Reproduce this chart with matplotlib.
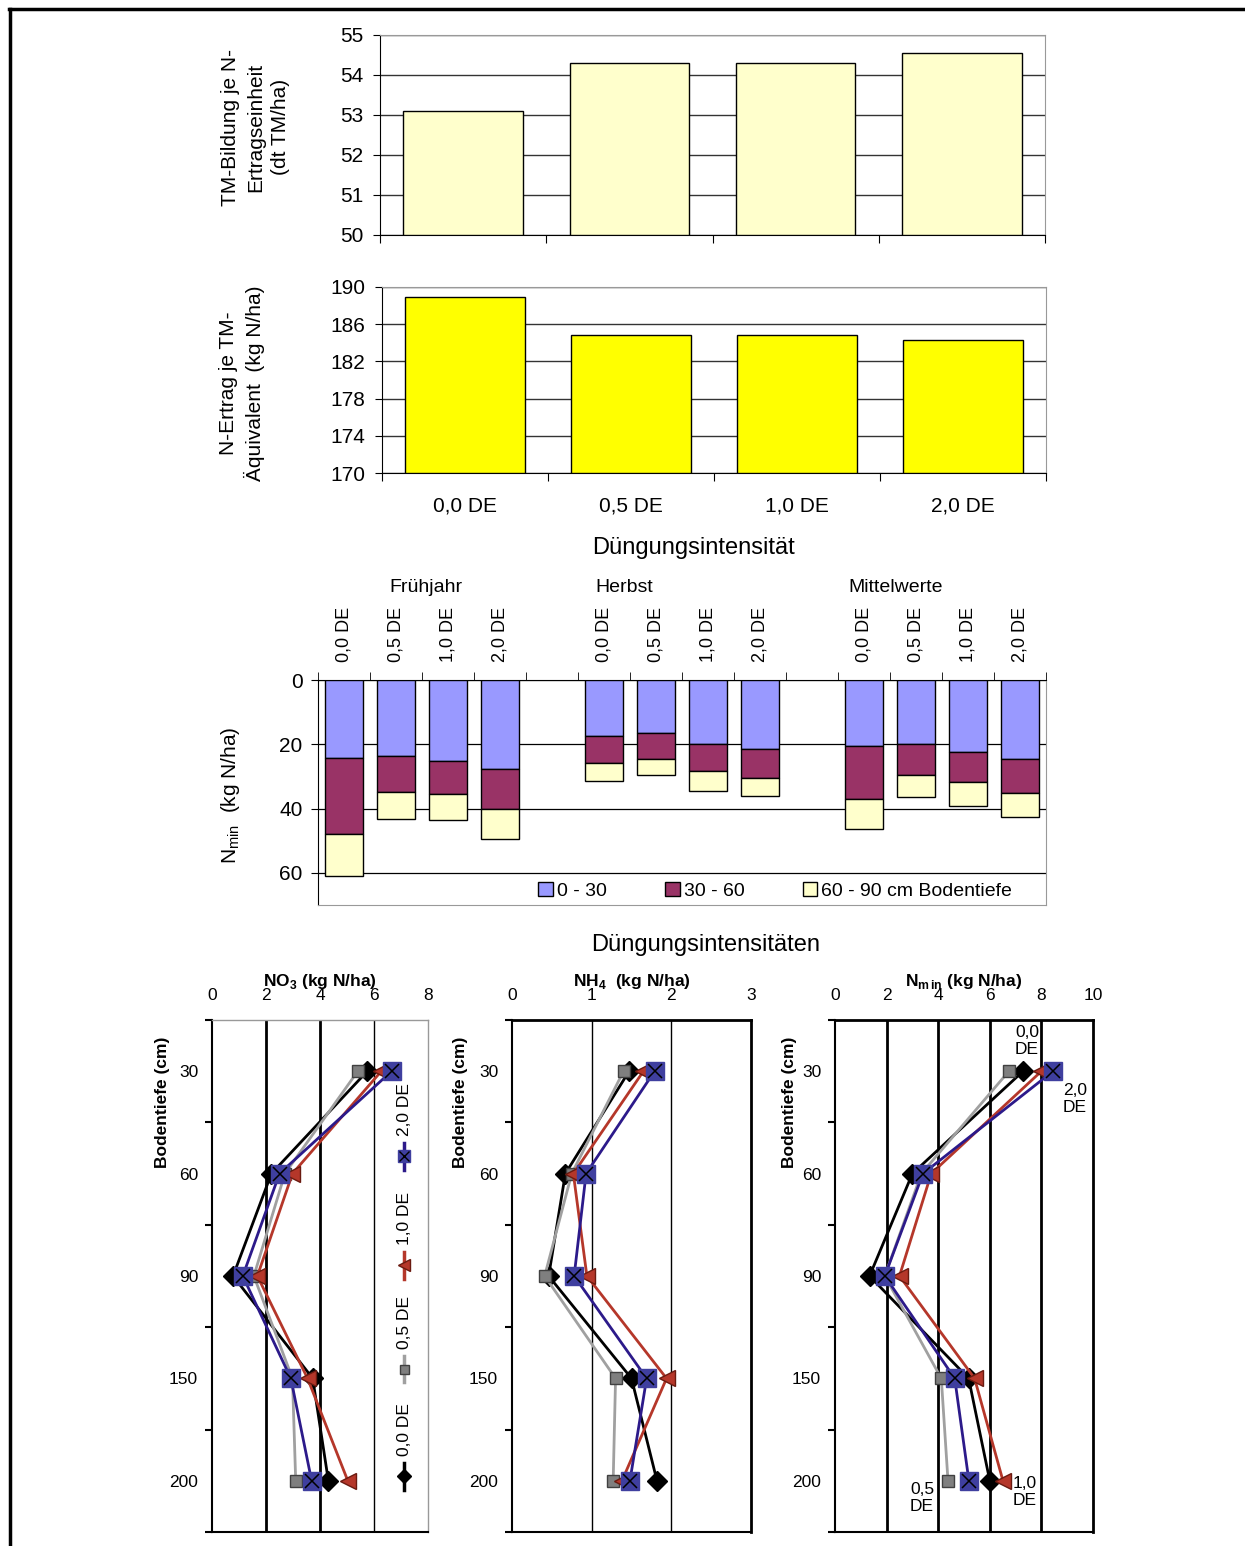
import matplotlib
matplotlib.use("Agg")
import matplotlib.pyplot as plt
from matplotlib.lines import Line2D
from matplotlib.patches import Patch
import numpy as np

plt.rcParams['font.family'] = ['Liberation Sans', 'DejaVu Sans']
plt.rcParams['mathtext.fontset'] = 'custom'
plt.rcParams['mathtext.rm'] = 'Liberation Sans'
plt.rcParams['mathtext.bf'] = 'Liberation Sans:bold'

# --- data -------------------------------------------------------------
categories = ['0,0 DE', '0,5 DE', '1,0 DE', '2,0 DE']
tm_bildung = [53.1, 54.3, 54.3, 54.55]
n_ertrag = [188.9, 184.8, 184.8, 184.3]

season_labels = ['Frühjahr', 'Herbst', 'Mittelwerte']
nmin_0_30 = [24.4, 23.6, 25.2, 27.8, 17.3, 16.6, 19.9, 21.5, 20.6, 19.9, 22.5, 24.5]
nmin_30_60 = [23.5, 11.2, 10.4, 12.3, 8.6, 7.9, 8.3, 8.9, 16.5, 9.7, 9.3, 10.7]
nmin_60_90 = [13.0, 8.3, 7.8, 9.3, 5.6, 5.1, 6.2, 5.7, 9.3, 6.8, 7.3, 7.5]
layer_labels = ['0 - 30', '30 - 60', '60 - 90 cm Bodentiefe']

depths = ['30', '60', '90', '150', '200']
no3_00 = [5.75, 2.2, 0.78, 3.73, 4.31]
no3_05 = [5.4, 2.7, 1.55, 2.98, 3.1]
no3_10 = [6.27, 2.98, 1.68, 3.54, 5.03]
no3_20 = [6.65, 2.5, 1.14, 2.92, 3.69]
nh4_00 = [1.47, 0.67, 0.46, 1.50, 1.82]
nh4_05 = [1.40, 0.75, 0.41, 1.30, 1.27]
nh4_10 = [1.65, 0.77, 0.94, 1.94, 1.38]
nh4_20 = [1.79, 0.93, 0.78, 1.69, 1.48]
nmin_00 = [7.29, 3.0, 1.34, 5.18, 6.0]
nmin_05 = [6.74, 3.35, 1.93, 4.12, 4.38]
nmin_10 = [8.0, 3.73, 2.5, 5.41, 6.51]
nmin_20 = [8.45, 3.41, 1.93, 4.64, 5.19]

# --- layout helpers ---------------------------------------------------
W, H = 1245, 1546
fig = plt.figure(figsize=(W / 100, H / 100), dpi=100)


def rect(x0, y0, x1, y1):
    return [x0 / W, 1 - y1 / H, (x1 - x0) / W, (y1 - y0) / H]


def ftext(x, y, s, **kw):
    fig.text(x / W, 1 - y / H, s, **kw)


# outer frame (left + top)
fig.add_artist(Line2D([10 / W, 10 / W], [0, 1 - 9 / H], color='black', lw=2.5))
fig.add_artist(Line2D([9 / W, 1], [1 - 9 / H, 1 - 9 / H], color='black', lw=2.5))


def bar_axes(ax, values, color, ylim, yticks):
    x = np.arange(len(values))
    ax.bar(x, [v - ylim[0] for v in values], bottom=ylim[0], width=0.72,
           color=color, edgecolor='black', linewidth=1, zorder=3)
    ax.set_xlim(-0.5, len(values) - 0.5)
    ax.set_ylim(*ylim)
    ax.set_yticks(yticks)
    ax.yaxis.grid(True, color='#333333', lw=1, zorder=0)
    ax.set_xticks(np.arange(len(values) + 1) - 0.5)
    ax.set_xticklabels([])
    ax.tick_params(axis='x', length=6, direction='out')
    ax.tick_params(axis='y', length=5, direction='out', labelsize=15, pad=7)
    for s in ['top', 'right']:
        ax.spines[s].set_color('#999999')
    ax.spines['left'].set_color('black')
    ax.spines['bottom'].set_color('black')


# --- chart 1 ----------------------------------------------------------
ax1 = fig.add_axes(rect(380, 35, 1045, 235))
bar_axes(ax1, tm_bildung, '#FFFFCC', (50, 55), range(50, 56))
ftext(256, 127, 'TM-Bildung je N-\nErtragseinheit\n(dt TM/ha)', rotation=90,
      ha='center', va='center', fontsize=15, multialignment='center', linespacing=1.4)

# --- chart 2 ----------------------------------------------------------
ax2 = fig.add_axes(rect(382, 287, 1046, 473))
bar_axes(ax2, n_ertrag, '#FFFF00', (170, 190), range(170, 191, 4))
for i, c in enumerate(categories):
    ax2.text(i, -0.175, c, transform=ax2.get_xaxis_transform(), ha='center', va='center', fontsize=15)
ftext(242, 383, 'N-Ertrag je TM-\nÄquivalent  (kg N/ha)', rotation=90,
      ha='center', va='center', fontsize=15, multialignment='center', linespacing=1.4)
ftext(693, 548, 'Düngungsintensität', ha='center', va='center', fontsize=17)

# --- chart 3 (stacked Nmin) --------------------------------------------
ax3 = fig.add_axes(rect(318, 680, 1046, 905))
pos = [g * 5 + i for g in range(3) for i in range(4)]
b1 = np.array(nmin_0_30)
b2 = np.array(nmin_30_60)
b3 = np.array(nmin_60_90)
colors3 = ['#9999FF', '#993366', '#FFFFCC']
ax3.bar(pos, b1, width=0.73, color=colors3[0], edgecolor='black', lw=1, zorder=3, label=layer_labels[0])
ax3.bar(pos, b2, bottom=b1, width=0.73, color=colors3[1], edgecolor='black', lw=1, zorder=3, label=layer_labels[1])
ax3.bar(pos, b3, bottom=b1 + b2, width=0.73, color=colors3[2], edgecolor='black', lw=1, zorder=3, label=layer_labels[2])
ax3.set_xlim(-0.5, 13.5)
ax3.set_ylim(70, 0)
ax3.set_yticks([0, 20, 40, 60])
ax3.yaxis.grid(True, color='black', lw=0.9, zorder=0)
ax3.xaxis.tick_top()
ax3.set_xticks(pos)
ax3.set_xticklabels(categories * 3, rotation=90, fontsize=13)
ax3.set_xticks(np.arange(15) - 0.5, minor=True)
ax3.tick_params(axis='x', which='major', length=0, pad=13)
ax3.tick_params(axis='x', which='minor', length=6, direction='out', top=True, bottom=False)
ax3.tick_params(axis='y', length=5, labelsize=15, pad=6)
ax3.spines['bottom'].set_color('#999999')
ax3.spines['right'].set_color('#999999')
group_x = [1.58, 5.38, 10.6]
for gx, lab in zip(group_x, season_labels):
    ax3.text(gx, 1.41, lab, transform=ax3.get_xaxis_transform(), ha='center', va='center', fontsize=14)
handles = [Patch(facecolor=c, edgecolor='black', lw=1) for c in colors3]
ax3.legend(handles, layer_labels, loc='center left', bbox_to_anchor=(0.292, 0.062), ncol=3,
           frameon=False, fontsize=14, handlelength=0.75, handleheight=0.75,
           handletextpad=0.2, columnspacing=3.0, borderaxespad=0)
ftext(230, 795, r'N$_{\mathrm{min}}$  (kg N/ha)', rotation=90, ha='center', va='center', fontsize=15)

ftext(706, 945, 'Düngungsintensitäten', ha='center', va='center', fontsize=17)

# --- depth profiles ---------------------------------------------------
series_style = [
    dict(color='black', marker='D', ms=10, mfc='black', mec='black'),
    dict(color='#A0A0A0', marker='s', ms=9, mfc='#7F7F7F', mec='#404040'),
    dict(color='#B5372A', marker='<', ms=12, mfc='#B5372A', mec='#6A1A10'),
    dict(color='#2C1A8A', marker='s', ms=12.5, mfc='#3F3F9F', mec='#3F3F9F'),
]
leg_labels = ['0,0 DE', '0,5 DE', '1,0 DE', '2,0 DE']


def profile(ax, data, xmax, xstep, title, grid_lw, frame_color, frame_lw, ylab_x):
    y = np.arange(len(depths))
    for vals, st in zip(data, series_style):
        ax.plot(vals, y, lw=2, zorder=4, **st)
    ax.plot(data[3], y, ls='none', marker='x', ms=10, mew=1.1, color='black', zorder=5)
    ax.set_ylim(len(depths) - 0.5, -0.5)
    ax.set_xlim(0, xmax)
    ticks = np.arange(0, xmax + 0.01, xstep)
    ax.set_xticks(ticks)
    ax.set_xticklabels([f'{t:g}' for t in ticks])
    ax.xaxis.tick_top()
    ax.tick_params(axis='x', length=0, pad=12, labelsize=12.5)
    ax.set_yticks(y)
    ax.set_yticklabels(depths)
    ax.set_yticks(np.arange(len(depths) + 1) - 0.5, minor=True)
    ax.tick_params(axis='y', which='major', length=0, pad=10, labelsize=12.5)
    ax.tick_params(axis='y', which='minor', length=5, width=1.5, direction='out')
    for t, lw in zip(ticks[1:-1], grid_lw):
        ax.axvline(t, color='black', lw=lw, zorder=1)
    ax.spines['left'].set_linewidth(1.5)
    ax.spines['bottom'].set_linewidth(1.5)
    for s in ['top', 'right']:
        ax.spines[s].set_color(frame_color)
        ax.spines[s].set_linewidth(frame_lw)
    ax.text(0.5, 1.076, title, transform=ax.transAxes, ha='center', va='center',
            fontsize=12.5, fontweight='bold')
    ax.set_ylabel('Bodentiefe (cm)', fontsize=12.5, fontweight='bold')
    ax.yaxis.set_label_coords(ylab_x, 0.84)


ax4 = fig.add_axes(rect(212, 1020, 428, 1532))
profile(ax4, [no3_00, no3_05, no3_10, no3_20], 8, 2, r'NO$_\mathbf{3}$ (kg N/ha)',
        [2, 2, 1], '#999999', 1, -0.194)
# rotated legend inside the NO3 panel
for ya, st, lab in zip([0.109, 0.318, 0.521, 0.734], series_style, leg_labels):
    ax4.plot([0.889, 0.889], [ya - 0.026, ya + 0.026], transform=ax4.transAxes,
             color=st['color'], lw=2.5, zorder=6, clip_on=False)
    ax4.plot([0.889], [ya], transform=ax4.transAxes, ls='none', marker=st['marker'],
             ms=st['ms'] * 0.72, mfc=st['mfc'], mec=st['mec'], zorder=7, clip_on=False)
    ax4.text(0.889, ya + 0.04, lab, transform=ax4.transAxes, rotation=90,
             ha='center', va='bottom', fontsize=12.5, zorder=7)
ax4.plot([0.889], [0.734], transform=ax4.transAxes, ls='none', marker='x', ms=7,
         mew=1, color='black', zorder=8)

ax5 = fig.add_axes(rect(512, 1020, 751, 1532))
profile(ax5, [nh4_00, nh4_05, nh4_10, nh4_20], 3, 1, r'NH$_\mathbf{4}$  (kg N/ha)',
        [1, 1], 'black', 2, -0.184)

ax6 = fig.add_axes(rect(835, 1020, 1093, 1532))
profile(ax6, [nmin_00, nmin_05, nmin_10, nmin_20], 10, 2, r'N$_\mathbf{m\,in}$ (kg N/ha)',
        [2, 2, 2, 2], 'black', 2, -0.147)
label_pts = [(nmin_00[0], 0, (4, -30), 'center'), (nmin_20[0], 0, (10, 28), 'left'),
             (nmin_05[4], 4, (-26, 17), 'center'), (nmin_10[4], 4, (10, 11), 'left')]
for (xv, yi, off, ha), lab in zip(label_pts, ['0,0\nDE', '2,0\nDE', '0,5\nDE', '1,0\nDE']):
    ax6.annotate(lab, xy=(xv, yi), xytext=(off[0], -off[1]), textcoords='offset pixels',
                 ha=ha, va='center', fontsize=12.5, multialignment='center', zorder=8)

fig.savefig('out.png', dpi=100)
